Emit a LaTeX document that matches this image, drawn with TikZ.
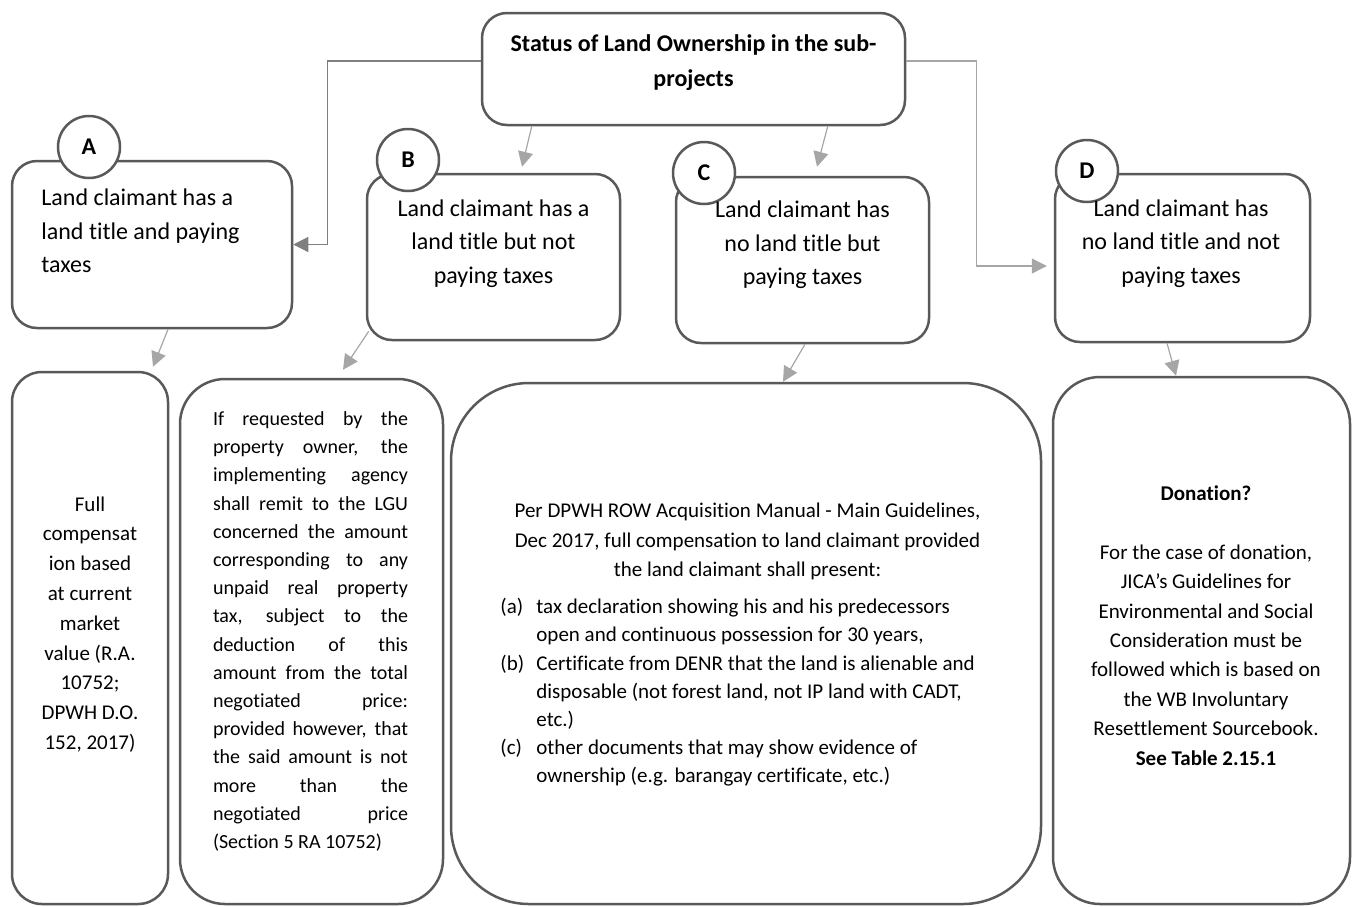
\documentclass[tikz,border=0pt]{standalone}
\usepackage{fontspec}
\setmainfont{Carlito}[Ligatures=CommonOff]
\usetikzlibrary{arrows.meta,calc}

\definecolor{boxline}{HTML}{595959}
\definecolor{linedark}{HTML}{7F7F7F}
\definecolor{linelight}{HTML}{A6A6A6}

\tikzset{
  box/.style={draw=boxline, line width=1.25pt, rounded corners=12.5pt, inner sep=0pt},
  badge/.style={circle, draw=boxline, line width=1.25pt, fill=white, minimum size=31pt, inner sep=0pt, font=\fontsize{12pt}{14pt}\selectfont\bfseries},
  upper/.style={font=\fontsize{12pt}{16.75pt}\selectfont, inner sep=0pt},
  heading/.style={font=\fontsize{12pt}{17.5pt}\selectfont\bfseries, inner sep=0pt},
  lower/.style={font=\fontsize{10.5pt}{14.75pt}\selectfont, inner sep=0pt},
  conn/.style={draw=linelight, line width=0.6pt, -{Triangle[length=7.5pt,width=7.5pt]}},
}

\begin{document}
\begin{tikzpicture}[x=0.5pt, y=-0.5pt]
\useasboundingbox (0,0) rectangle (1352,906);

% status boxes
\node[box, minimum width=211.5pt, minimum height=56pt] (top) at (693.5,69) {};
\node[box, minimum width=140pt, minimum height=83.5pt] (A) at (152,244.5) {};
\node[box, minimum width=126.5pt, minimum height=83pt] (B) at (493.5,257) {};
\node[box, minimum width=126.5pt, minimum height=83pt] (C) at (802.5,260) {};
\node[box, minimum width=127.5pt, minimum height=84pt] (D) at (1182.5,258) {};

% outcome boxes
\node[box, rounded corners=15pt, minimum width=78pt, minimum height=266pt] (A2) at (90,638) {};
\node[box, rounded corners=22.5pt, minimum width=131.5pt, minimum height=262.5pt] (B2) at (311.5,641.5) {};
\node[box, rounded corners=39pt, minimum width=295pt, minimum height=260.5pt] (C2) at (746,643.5) {};
\node[box, rounded corners=23.5pt, minimum width=148.5pt, minimum height=263.5pt] (D2) at (1201.5,640.5) {};

% letters
\node[badge] (A-badge) at (89,147) {A};
\node[badge] (B-badge) at (408,160) {B};
\node[badge] (C-badge) at (704,173) {C};
\node[badge] (D-badge) at (1087,171) {D};

% texts
\node[heading, align=center] (top-txt) at (693.5,62.5) {Status of Land Ownership in the sub-\\projects};
\node[upper, align=left, anchor=west] (A-txt) at (41,231) {Land claimant has a\\land title and paying\\taxes};
\node[upper, align=center] (B-txt) at (493.5,243.5) {Land claimant has a\\land title but not\\paying taxes};
\node[upper, align=center] (C-txt) at (802.5,245) {Land claimant has\\no land title but\\paying taxes};
\node[upper, align=center] (D-txt) at (1181,243.5) {Land claimant has\\no land title and not\\paying taxes};

\node[lower, font=\fontsize{10.5pt}{14.9pt}\selectfont, align=center] (A2-txt) at (90,624.5) {Full\\compensat\\ion based\\at current\\market\\value (R.A.\\10752;\\DPWH D.O.\\152, 2017)};
\node[lower, font=\fontsize{10pt}{14.1pt}\selectfont, align=justify, text width=97.5pt] (B2-txt) at (310.5,631.5) {If requested by the\linebreak property owner, the\linebreak implementing agency\linebreak shall remit to the LGU\linebreak concerned the amount\linebreak corresponding to any\linebreak unpaid real property\linebreak tax, subject to the\linebreak deduction of this\linebreak amount from the total\linebreak negotiated price:\linebreak provided however, that\linebreak the said amount is not\linebreak more than the\linebreak negotiated price\linebreak (Section 5 RA 10752)};
\node[lower, align=center] (C2-head) at (747.5,541.5) {Per DPWH ROW Acquisition Manual - Main Guidelines,\\Dec 2017, full compensation to land claimant provided\\the land claimant shall present:};
\node[lower, font=\fontsize{10.5pt}{14.1pt}\selectfont, align=left, anchor=west] (C2-list) at (500,692.5) {\makebox[18pt][l]{(a)}tax declaration showing his and his predecessors\\\hspace*{18pt}open and continuous possession for 30 years,\\\makebox[18pt][l]{(b)}Certificate from DENR that the land is alienable and\\\hspace*{18pt}disposable (not forest land, not IP land with CADT,\\\hspace*{18pt}etc.)\\\makebox[18pt][l]{(c)}other documents that may show evidence of\\\hspace*{18pt}ownership (e.g. barangay certificate, etc.)};
\node[lower, font=\fontsize{10.5pt}{14.7pt}\selectfont, align=center] (D2-txt) at (1206,625.5) {\textbf{Donation?}\\[14.7pt]For the case of donation,\\JICA’s Guidelines for\\Environmental and Social\\Consideration must be\\followed which is based on\\the WB Involuntary\\Resettlement Sourcebook.\\\textbf{See Table 2.15.1}};

% connectors
\draw[conn, draw=linedark] ($(top.west)+(0,-8)$) -| ($(A.east)+(34,0)$) -- (A.east);
\draw[conn] ($(top.east)+(0,-8)$) -| ($(D.west)+(-77,8)$) -- ($(D.west)+(-7,8)$);
\draw[conn] ($(top.south west)+(51,0)$) -- ($(B.north)+(28.5,-6)$);
\draw[conn] ($(top.south west)+(347,0)$) -- ($(C.north)+(14.5,-9)$);
\draw[conn] ($(A.south)+(16,0)$) -- ($(A2.north)+(63,-4)$);
\draw[conn] ($(B.south west)+(3,-10)$) -- ($(B2.north)+(31.5,-8)$);
\draw[conn] ($(C.south)+(2.5,0)$) -- ($(C2.north)+(37,0)$);
\draw[conn] ($(D.south)+(-15.5,0)$) -- ($(D2.north)+(-25.5,0)$);
\end{tikzpicture}
\end{document}
